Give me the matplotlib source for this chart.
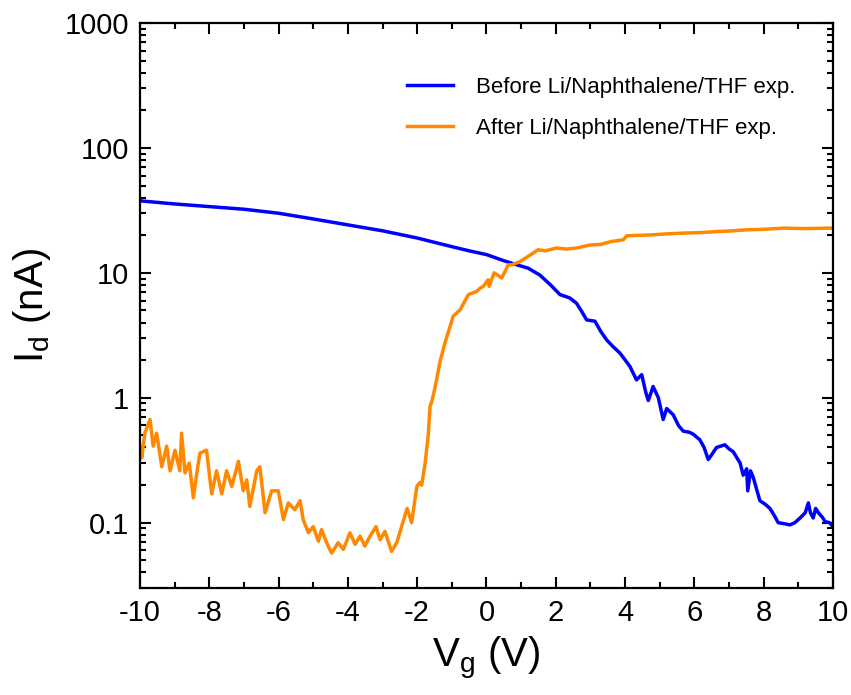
import numpy as np
import matplotlib
matplotlib.use("Agg")
import matplotlib.pyplot as plt
from matplotlib.ticker import MultipleLocator, LogLocator, FixedLocator, NullFormatter

plt.rcParams["font.family"] = ["Liberation Sans", "DejaVu Sans"]
plt.rcParams["mathtext.default"] = "regular"
plt.rcParams["axes.unicode_minus"] = False

# ── data ────────────────────────────────────────────────
vg_before = [-10.0, -9.0, -8.0, -7.0, -6.0, -5.0, -4.0, -3.0, -2.0, -1.0, -0.5,
             0.0, 0.5, 0.87, 1.2, 1.54, 1.85, 2.12, 2.4, 2.55, 2.6, 2.75, 2.89,
             3.13, 3.3, 3.47, 3.65, 3.85, 4.0, 4.14, 4.33, 4.48, 4.6, 4.67,
             4.81, 4.96, 5.1, 5.2, 5.39, 5.54, 5.68, 5.85, 5.97, 6.16, 6.28,
             6.4, 6.5, 6.64, 6.88, 7.0, 7.12, 7.32, 7.41, 7.51, 7.54, 7.62,
             7.7, 7.89, 8.05, 8.18, 8.3, 8.42, 8.6, 8.76, 8.9, 9.05, 9.2,
             9.29, 9.35, 9.43, 9.5, 9.58, 9.7, 9.77, 9.9, 10.0]
id_before = [37.7, 35.6, 33.9, 32.3, 30.0, 27.0, 24.2, 21.7, 19.0, 16.2, 15.0,
             14.0, 12.5, 11.6, 10.9, 9.6, 8.0, 6.7, 6.3, 5.85, 5.7, 4.9, 4.2,
             4.1, 3.39, 2.9, 2.57, 2.28, 2.01, 1.78, 1.39, 1.53, 1.1, 0.95,
             1.23, 1.0, 0.67, 0.82, 0.73, 0.6, 0.54, 0.53, 0.51, 0.46, 0.40,
             0.32, 0.35, 0.40, 0.42, 0.39, 0.37, 0.30, 0.24, 0.27, 0.18, 0.26,
             0.23, 0.15, 0.14, 0.13, 0.115, 0.10, 0.098, 0.096, 0.10, 0.109, 0.12,
             0.144, 0.12, 0.109, 0.13, 0.12, 0.11, 0.102, 0.10, 0.093]

vg_after = [-10.0, -9.95, -9.86, -9.71, -9.62, -9.52, -9.37, -9.23, -9.13, -8.99,
            -8.85, -8.8, -8.7, -8.58, -8.46, -8.36, -8.27, -8.08, -7.93, -7.79,
            -7.64, -7.5, -7.35, -7.16, -7.02, -6.92, -6.83, -6.63, -6.54, -6.39,
            -6.2, -6.01, -5.86, -5.72, -5.53, -5.38, -5.29, -5.14, -5.0, -4.85,
            -4.76, -4.61, -4.47, -4.28, -4.13, -3.94, -3.79, -3.65, -3.51, -3.36,
            -3.19, -3.07, -2.93, -2.74, -2.59, -2.45, -2.29, -2.16, -2.01, -1.92,
            -1.87, -1.77, -1.68, -1.63, -1.58, -1.52, -1.44, -1.34, -1.2, -1.05,
            -0.96, -0.76, -0.52, -0.28, -0.19, -0.09, 0.05, 0.08, 0.22, 0.44,
            0.63, 0.73, 0.97, 1.35, 1.49, 1.7, 2.02, 2.3, 2.6, 2.99, 3.3, 3.6,
            3.95, 4.05, 4.72, 5.2, 5.68, 6.2, 6.64, 7.0, 7.51, 8.0, 8.57, 9.2,
            9.91, 10.0]
id_after = [0.41, 0.33, 0.52, 0.67, 0.41, 0.52, 0.28, 0.41, 0.26, 0.38,
            0.26, 0.52, 0.25, 0.30, 0.158, 0.25, 0.36, 0.38, 0.17, 0.26,
            0.17, 0.26, 0.195, 0.31, 0.18, 0.22, 0.135, 0.26, 0.28, 0.12,
            0.18, 0.18, 0.106, 0.144, 0.127, 0.15, 0.106, 0.083, 0.093, 0.071,
            0.088, 0.069, 0.057, 0.069, 0.061, 0.083, 0.067, 0.078, 0.065, 0.078,
            0.093, 0.073, 0.085, 0.059, 0.069, 0.093, 0.13, 0.10, 0.195, 0.21,
            0.20, 0.30, 0.50, 0.85, 0.93, 1.09, 1.39, 1.95, 2.74, 3.72,
            4.5, 5.06, 6.7, 7.1, 7.5, 7.8, 8.8, 7.8, 10.0, 9.1,
            11.6, 11.6, 12.3, 14.4, 15.3, 15.0, 15.8, 15.5, 15.8, 16.7, 16.9, 17.8,
            18.4, 19.8, 20.1, 20.5, 20.8, 21.0, 21.4, 21.6, 22.1, 22.3, 22.8, 22.6,
            22.8, 22.7]

label_before = "Before Li/Naphthalene/THF exp."
label_after = "After Li/Naphthalene/THF exp."

# ── figure ──────────────────────────────────────────────
fig = plt.figure(figsize=(8.51, 6.95), dpi=100)
ax = fig.add_axes([0.1645, 0.154, 0.8143, 0.8129])

ax.plot(vg_before, id_before, color="#0000FF", lw=2.5, label=label_before)
ax.plot(vg_after, id_after, color="#FF8800", lw=2.5, label=label_after)

ax.set_yscale("log")
ax.set_xlim(-10, 10)
ax.set_ylim(0.03, 1000)

ax.xaxis.set_major_locator(MultipleLocator(2))
ax.xaxis.set_minor_locator(MultipleLocator(1))
ax.yaxis.set_major_locator(FixedLocator([0.1, 1, 10, 100, 1000]))
ax.yaxis.set_minor_locator(LogLocator(base=10, subs=np.arange(2, 10)))
ax.yaxis.set_minor_formatter(NullFormatter())
ax.set_yticklabels(["0.1", "1", "10", "100", "1000"])

ax.tick_params(which="both", direction="in", top=True, right=True,
               width=1.5, labelsize=21)
ax.tick_params(which="major", length=8, pad=8)
ax.tick_params(which="minor", length=4.5)
for sp in ax.spines.values():
    sp.set_linewidth(1.6)

ax.set_xlabel("V$_{g}$ (V)", fontsize=29, labelpad=6)
ax.set_ylabel("I$_{d}$ (nA)", fontsize=29, labelpad=8)

ax.legend(loc="upper left", bbox_to_anchor=(0.385, 0.905), frameon=False,
          fontsize=16, handlelength=2.1, handletextpad=1.0,
          labelspacing=0.9, borderpad=0, borderaxespad=0)

plt.savefig("out.png", dpi=100)
plt.close()
